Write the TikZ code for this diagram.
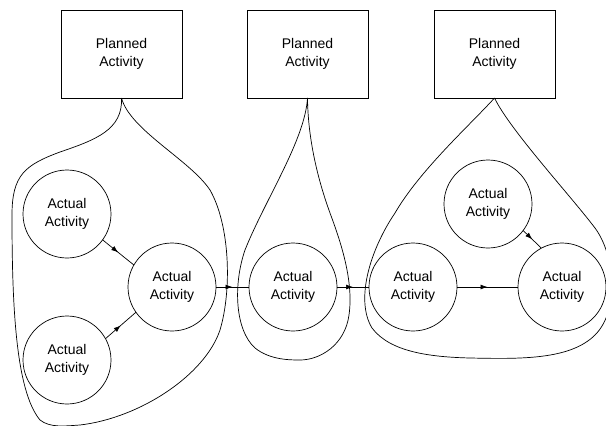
\documentclass[tikz,border=0pt]{standalone}
\usepackage{fontspec}
\setmainfont{Liberation Sans}
\usetikzlibrary{arrows.meta,decorations.markings}

\begin{document}
\begin{tikzpicture}[x=1pt, y=-1pt, line width=0.7pt,
  every node/.style={align=center, font=\fontsize{14}{18}\selectfont, inner sep=0pt, outer sep=0pt},
  planned/.style={draw, minimum width=121pt, minimum height=88pt},
  actual/.style={draw, circle, minimum size=88pt},
  flow/.style={postaction={decorate}, decoration={markings, mark=at position 0.5 with {\arrow{Latex[length=7pt,width=5pt]}}}}]
\useasboundingbox (0,0) rectangle (606,426);

\node[planned] (p1) at (121.5,54) {Planned\\Activity};
\node[planned] (p2) at (307.5,54) {Planned\\Activity};
\node[planned] (p3) at (494.5,54) {Planned\\Activity};

\node[actual] (a1) at (67,214) {Actual\\Activity};
\node[actual] (a2) at (67,360) {Actual\\Activity};
\node[actual] (a3) at (172,287) {Actual\\Activity};
\node[actual] (b1) at (293,287) {Actual\\Activity};
\node[actual] (c1) at (413,287) {Actual\\Activity};
\node[actual] (c2) at (488,204) {Actual\\Activity};
\node[actual] (c3) at (562,287) {Actual\\Activity};

\draw[flow] (a1.-36) -- (a3.150);
\draw[flow] (a2.29) -- (a3.215);
\draw[flow] (a3) -- (b1);
\draw[flow] (b1) -- (c1);
\draw[flow] (c1) -- (c3);
\draw[flow] (c2.-37) -- (c3.118);

\draw (p1.south) .. controls (123,130) and (95,140) .. (60,152)
  .. controls (25,165) and (12,175) .. (12,215)
  .. controls (12,300) and (15,390) .. (40,420)
  .. controls (50,428) and (65,426) .. (80,425)
  .. controls (140,418) and (205,375) .. (220,330)
  .. controls (232,290) and (230,225) .. (210,190)
  .. controls (190,160) and (130,130) .. (p1.south);
\draw (p2.south) .. controls (305,140) and (265,200) .. (245,250)
  .. controls (233,285) and (235,330) .. (255,348)
  .. controls (270,360) and (290,360) .. (300,360)
  .. controls (320,360) and (345,345) .. (349,315)
  .. controls (354,280) and (340,240) .. (330,213)
  .. controls (318,180) and (308,140) .. (p2.south);
\draw (p3.south) .. controls (470,125) and (420,170) .. (395,213)
  .. controls (370,250) and (355,300) .. (372,328)
  .. controls (390,352) and (430,357) .. (470,358)
  .. controls (520,359) and (570,360) .. (595,335)
  .. controls (620,310) and (615,255) .. (595,228)
  .. controls (570,195) and (510,130) .. (p3.south);
\end{tikzpicture}
\end{document}
